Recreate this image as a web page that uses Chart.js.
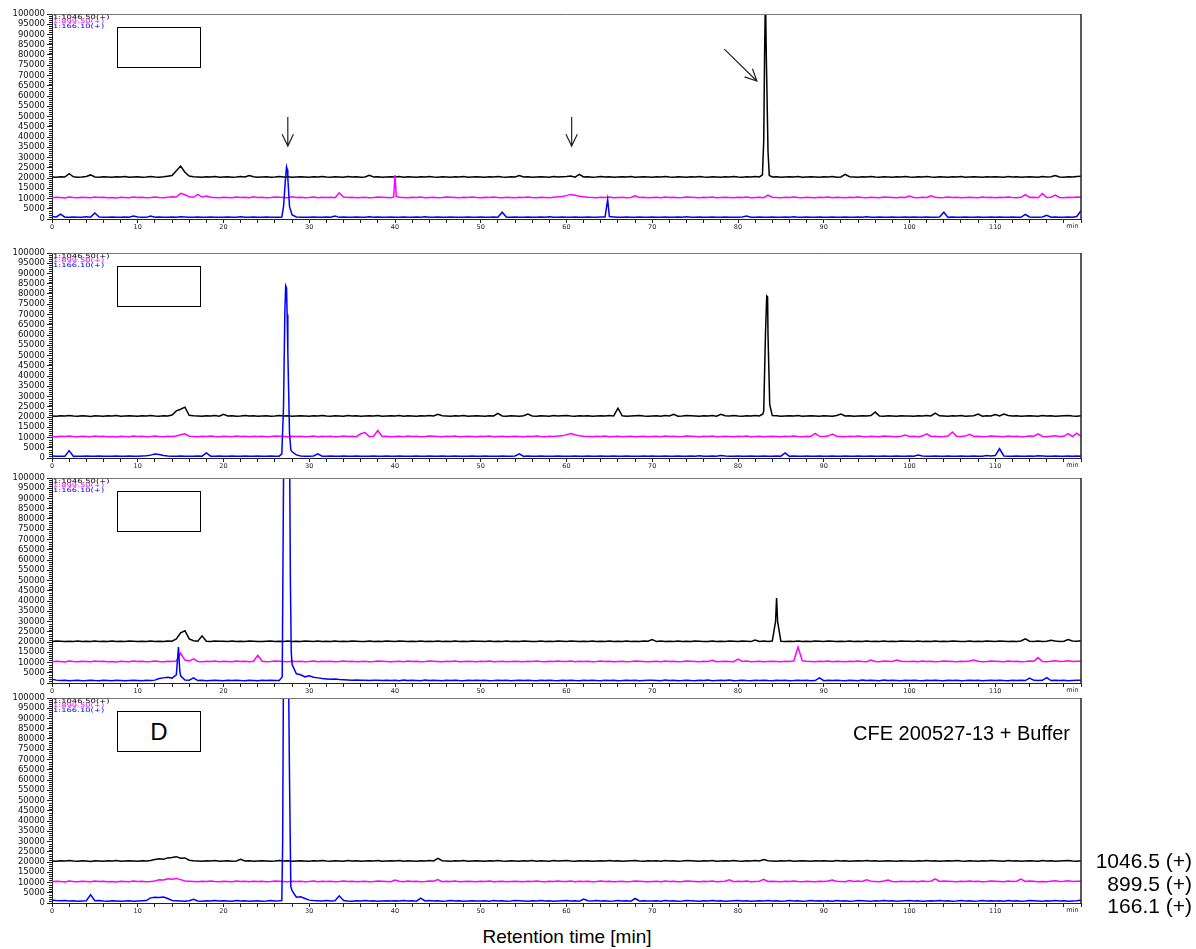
<!DOCTYPE html>
<html>
<head>
<meta charset="utf-8">
<script src="https://cdn.jsdelivr.net/npm/chart.js@4.4.1/dist/chart.umd.min.js"></script>
<style>
  body { margin: 0; background: #fff; width: 1196px; height: 949px; position: relative; overflow: hidden;
         font-family: "Liberation Sans", Arial, sans-serif; color: #000; }
  canvas { position: absolute; left: 0; }
  .box { position: absolute; left: 117px; width: 84px; height: 41px; border: 1px solid #000; box-sizing: border-box;
         font-size: 24px; line-height: 39px; text-align: center; background: #fff; }
  .txt { position: absolute; white-space: nowrap; }
</style>
</head>
<body>
<script>
// sampling of the grids below: one value every 0.5 min from 0 to 120 min,
// values in hundreds of counts
const STEP = 0.5;
const UNIT = 100;

const channelNames = ['1:1046.50(+)', '1:899.50(+)', '1:166.10(+)'];
const massLabels = ['1046.5 (+)', '899.5 (+)', '166.1 (+)'];
const colors = ['#000000', '#ff00ff', '#0000ff'];

// ---- panel A ----
const A_black = [
  205,204,206,205,221,206,204,205,207,215,205,204,206,205,204,206,205,207,204,205,
  206,204,205,207,205,204,206,209,212,235,258,228,210,206,205,204,206,205,207,204,
  205,206,204,205,207,205,212,206,204,205,206,204,205,207,205,206,204,205,206,205,
  204,206,205,207,205,204,206,205,204,207,205,206,204,205,213,205,206,204,205,206,
  205,207,204,206,205,204,206,205,207,205,204,206,205,204,206,205,207,204,205,206,
  205,204,206,205,207,205,204,206,205,212,205,206,204,205,206,205,204,207,205,206,
  207,210,204,218,205,206,204,205,207,205,206,204,205,206,205,207,204,205,206,205,
  204,206,205,207,205,204,206,205,204,206,205,207,205,204,206,205,204,206,205,207,
  205,204,206,205,207,205,380,330,205,206,204,205,206,205,207,204,205,206,205,204,
  206,205,207,204,205,218,206,205,204,206,205,207,205,204,206,205,204,206,205,207,
  205,204,206,205,207,205,204,206,205,204,206,205,207,204,205,206,205,204,206,205,
  206,205,204,207,205,206,204,205,206,205,204,207,205,206,212,205,204,206,205,207,208
];
const A_blackPeaks = [[82.85,215],[83.1,800],[83.2,1100],[83.3,800],[83.65,212]];
const A_magenta = [
  104,106,105,103,107,105,104,106,105,104,107,105,106,104,105,103,106,105,104,107,
  105,106,104,105,107,105,104,106,108,107,125,118,109,106,120,107,112,106,105,104,
  106,105,104,107,105,106,104,108,105,106,104,105,107,106,105,104,109,105,106,104,
  105,107,104,106,105,106,104,128,107,105,106,104,105,106,104,105,107,106,105,104,
  215,106,105,104,106,105,107,104,105,106,104,105,107,106,105,104,106,105,107,105,
  104,106,105,107,105,104,106,105,104,106,105,107,105,104,106,105,104,106,108,110,
  114,120,116,111,108,106,105,104,106,105,107,104,105,106,104,105,113,105,106,104,
  105,106,104,107,105,106,104,105,107,106,105,104,106,105,107,104,105,106,105,104,
  106,105,107,104,105,106,104,116,106,105,104,106,105,107,105,104,106,105,104,106,
  105,107,104,106,105,104,106,105,107,105,104,106,105,104,107,106,105,104,106,105,
  112,105,104,106,105,113,106,104,105,107,105,106,104,105,106,105,104,107,105,106,
  104,106,105,107,105,104,106,119,105,106,104,124,105,106,117,105,104,106,105,107,106
];
const A_magentaPeaks = [[39.85,108],[40.15,110]];
const A_blue = [
  12,10,24,9,8,10,9,8,11,9,29,10,8,9,10,8,9,10,9,15,
  10,9,8,14,9,10,9,8,10,9,11,10,9,8,10,9,8,10,9,8,
  9,10,8,9,11,9,8,10,9,8,10,9,8,9,60,200,20,10,9,8,
  9,10,8,9,10,9,14,8,10,9,8,10,9,8,11,9,10,8,9,10,
  9,8,10,9,8,10,9,11,8,9,10,9,8,10,9,8,9,10,9,8,
  10,9,8,10,9,33,9,8,10,9,8,10,9,8,10,9,11,8,9,10,
  9,8,10,9,8,10,9,8,10,10,12,10,8,9,10,9,8,10,9,8,
  10,9,8,10,9,8,10,9,11,8,9,10,9,8,10,9,8,10,9,8,
  9,10,14,9,8,10,9,8,10,9,8,10,9,11,8,9,10,9,8,10,
  9,8,10,9,8,10,9,8,10,9,11,8,9,10,9,8,10,9,8,10,
  9,10,8,9,10,9,8,10,33,8,10,9,8,10,9,8,10,9,8,10,
  9,10,8,9,10,9,8,22,10,9,8,10,18,9,10,8,9,10,9,12,40
];
const A_bluePeaks = [[26.8,10],[27.2,180],[27.35,255],[27.45,240],[27.7,60],[64.8,95]];

// ---- panel B ----
const B_black = [
  205,204,206,205,207,205,204,206,205,203,206,205,204,206,205,207,204,205,206,205,
  204,206,205,207,205,204,206,205,210,230,238,248,208,206,205,204,206,205,207,204,
  213,205,206,204,205,207,205,206,204,205,206,204,205,207,205,206,204,205,206,205,
  204,206,205,207,205,204,206,205,204,207,205,206,204,205,206,205,207,204,205,206,
  205,207,204,206,205,204,206,205,207,205,213,206,205,204,206,205,207,204,205,206,
  205,204,206,205,218,205,204,206,205,204,206,214,205,204,206,205,204,207,205,206,
  207,205,204,206,205,206,204,205,206,205,207,205,243,206,204,205,206,207,205,204,
  205,206,204,207,205,213,204,205,207,206,205,204,206,205,207,204,213,206,205,207,
  205,204,206,205,207,205,230,600,207,206,204,205,206,205,207,204,205,206,205,204,
  206,205,204,207,214,205,206,204,205,206,205,207,224,205,204,206,205,204,206,205,
  205,204,206,205,207,205,219,206,205,204,206,205,207,204,205,206,214,204,206,205,
  212,205,214,207,205,206,204,205,206,205,204,207,205,206,204,205,206,207,205,204,206
];
const B_blackPeaks = [[82.9,215],[83.2,600],[83.35,790],[83.45,785],[83.7,260]];
const B_magenta = [
  105,104,106,105,107,105,104,106,105,104,107,105,106,104,105,103,106,105,104,107,
  105,106,104,105,107,105,104,106,105,107,113,118,106,105,104,106,105,107,105,104,
  106,105,104,107,105,106,104,106,105,106,104,105,107,106,105,104,106,105,106,104,
  105,107,104,106,105,106,104,105,107,105,106,104,118,124,105,106,134,105,106,104,
  105,106,104,107,105,106,104,105,107,106,105,104,106,105,107,104,105,106,105,104,
  106,105,107,104,105,106,104,105,106,105,104,106,105,107,105,104,106,105,107,108,
  114,119,113,108,106,105,104,106,105,107,104,105,106,104,105,106,104,105,106,104,
  105,106,104,107,105,106,104,105,107,106,105,104,106,105,107,104,105,106,105,104,
  106,105,107,104,105,106,104,105,106,105,104,106,105,107,105,104,106,105,120,106,
  105,107,117,106,105,104,106,105,107,105,104,106,105,104,107,106,105,104,106,112,
  105,106,104,107,118,105,106,104,105,107,127,106,105,107,116,105,106,104,105,107,
  106,105,104,107,105,106,104,105,107,106,118,105,104,106,108,105,106,119,105,121,106
];
const B_magentaPeaks = [];
const B_blue = [
  10,9,8,9,36,8,9,8,10,9,8,10,9,8,9,10,8,9,10,9,
  9,10,11,14,19,17,12,10,9,8,10,9,8,9,10,9,25,9,8,10,
  9,8,10,9,8,10,9,8,10,9,8,10,9,9,250,520,30,15,10,9,
  8,10,20,9,8,10,9,8,10,9,8,10,9,8,9,10,8,9,10,9,
  8,10,9,8,9,10,9,8,10,9,8,10,9,8,10,9,8,9,10,9,
  8,10,9,8,9,10,9,8,10,20,8,10,9,8,10,9,8,9,10,9,
  8,9,10,9,8,10,9,8,10,9,8,10,9,8,10,9,8,9,10,9,
  10,9,8,10,9,8,10,9,8,10,9,11,8,9,10,9,12,10,9,8,
  10,9,8,10,9,8,10,9,8,10,9,25,8,10,9,8,10,9,8,10,
  9,8,10,9,8,10,9,8,10,9,8,10,9,8,10,9,8,10,9,8,
  10,9,14,10,9,8,10,9,8,10,9,8,10,9,8,10,9,8,12,10,
  12,45,10,9,8,10,9,8,10,9,11,10,9,8,10,9,8,10,9,10,9
];
const B_bluePeaks = [[26.8,20],[27.15,700],[27.25,840],[27.35,830],[27.42,700],[27.7,120],[27.85,40]];

// ---- panel C ----
const C_black = [
  203,205,204,202,204,203,205,203,204,202,205,203,204,203,205,202,204,203,205,204,
  203,204,202,205,203,204,203,205,204,215,245,255,215,206,204,230,204,203,205,204,
  204,203,205,202,204,203,205,204,203,202,204,205,203,204,202,205,203,204,203,205,
  204,202,205,203,204,203,205,202,204,203,205,204,203,202,205,203,204,203,205,204,
  203,205,204,202,204,203,205,203,204,202,205,203,204,203,205,202,204,203,205,204,
  204,202,205,203,204,203,205,202,204,203,205,204,203,202,205,203,204,203,205,204,
  203,205,204,202,204,203,205,203,204,202,205,203,204,203,205,202,204,203,205,204,
  212,202,205,203,204,203,205,202,204,203,205,204,203,202,205,203,204,203,205,204,
  203,205,204,202,210,203,205,203,205,415,204,203,204,203,205,202,204,203,205,204,
  203,205,204,202,204,203,205,203,204,202,205,203,204,203,205,202,204,203,205,204,
  204,202,205,203,204,203,205,202,204,203,205,204,203,202,205,203,204,203,205,204,
  203,205,204,202,204,203,205,215,204,202,205,203,204,209,205,202,204,212,205,204,206
];
const C_blackPeaks = [[84.38,300],[84.62,300]];
const C_magenta = [
  104,106,105,103,107,105,104,106,105,104,107,105,106,104,105,103,106,105,104,107,
  105,106,104,105,107,105,104,106,105,107,145,112,107,118,105,104,106,105,107,104,
  106,105,104,107,105,106,104,106,135,106,104,105,107,106,105,104,106,105,106,104,
  105,107,104,106,105,106,104,105,107,105,106,104,105,106,104,105,107,106,105,104,
  105,106,104,107,105,106,104,105,107,106,105,104,106,105,107,104,105,106,105,104,
  106,105,107,104,105,106,104,105,106,105,104,106,105,107,105,104,106,105,107,105,
  105,107,104,106,105,106,104,105,107,105,106,104,105,106,104,105,107,106,105,104,
  105,106,104,107,105,106,104,105,107,106,105,104,106,105,111,104,105,106,105,104,
  117,105,107,104,105,106,104,105,106,105,104,106,105,107,175,108,106,105,104,106,
  105,107,104,106,105,104,106,105,107,105,104,112,105,104,107,106,105,112,106,105,
  105,106,104,107,105,106,104,105,107,106,105,104,106,105,107,112,106,104,105,107,
  106,105,104,107,105,106,104,105,107,106,124,105,104,106,108,105,106,109,105,106,106
];
const C_magentaPeaks = [];
const C_blue = [
  18,14,12,13,11,12,13,11,12,14,12,11,13,12,11,13,12,11,12,13,
  12,11,13,12,14,22,25,28,24,40,35,14,13,25,12,13,11,12,13,12,
  11,13,12,14,12,11,13,12,11,13,12,14,12,12,1000,1500,90,45,40,30,
  35,28,25,22,20,18,19,17,16,15,14,15,13,14,12,13,14,12,13,12,
  13,11,14,12,13,12,11,14,12,13,12,11,13,12,14,12,11,13,12,14,
  12,13,11,12,14,12,13,11,12,13,12,14,12,11,13,12,14,12,11,13,
  12,14,12,11,13,12,14,12,11,13,12,13,11,12,14,12,13,11,12,13,
  13,12,11,14,12,13,11,12,14,12,11,13,12,14,11,12,13,12,14,11,
  12,14,12,11,13,12,14,12,11,13,12,13,11,12,14,12,13,11,12,25,
  11,13,12,14,12,11,13,12,11,14,12,13,12,11,14,12,13,12,11,13,
  12,14,12,11,13,12,14,12,11,13,12,13,11,12,14,12,13,11,12,13,
  12,14,12,11,13,12,14,12,24,13,12,13,26,12,14,12,13,11,12,13,14
];
const C_bluePeaks = [[14.75,175],[14.9,60],[26.85,30],[27.05,1200],[27.7,1200],[27.8,500],[27.9,150]];

// ---- panel D ----
const D_black = [
  205,204,206,205,207,205,204,206,205,203,206,205,204,206,205,207,204,205,206,205,
  204,206,205,207,212,216,214,220,222,226,218,220,209,206,205,204,206,205,207,204,
  205,206,204,205,213,205,206,204,205,206,205,204,205,207,205,206,204,205,206,205,
  204,206,205,207,205,204,206,205,204,207,205,206,204,205,206,205,207,204,205,206,
  205,207,204,206,205,204,206,205,207,205,218,206,205,204,206,205,207,204,205,206,
  205,204,206,205,207,205,204,206,205,204,206,205,207,204,206,205,204,207,205,206,
  207,205,204,206,205,206,204,205,206,205,207,205,206,204,205,206,207,205,204,206,
  205,206,204,207,205,206,204,205,207,206,205,204,206,205,207,204,205,206,205,207,
  205,204,206,205,207,205,212,206,205,204,206,205,207,204,205,206,205,204,206,205,
  206,205,204,207,205,206,204,205,206,205,207,205,206,204,205,206,205,204,206,205,
  205,204,206,205,207,205,206,204,205,206,205,207,205,204,206,205,204,206,205,207,
  206,205,204,207,205,206,204,205,206,205,204,207,205,206,204,205,206,207,205,204,206
];
const D_blackPeaks = [];
const D_magenta = [
  104,106,105,103,107,105,104,106,105,104,107,105,106,104,105,103,106,105,104,107,
  105,106,104,105,107,113,112,118,116,120,114,107,106,105,104,106,105,107,105,104,
  106,105,104,107,105,106,104,106,105,106,104,105,107,106,105,104,106,105,106,104,
  105,107,104,106,105,106,104,105,107,105,106,104,105,106,104,105,107,106,105,104,
  112,106,104,107,105,106,104,105,107,106,114,104,106,105,107,104,105,106,105,104,
  106,105,107,104,105,106,104,105,106,105,104,106,105,107,105,104,106,105,107,105,
  105,107,104,106,105,106,104,105,107,105,106,104,105,106,104,105,107,106,105,104,
  105,106,104,107,105,106,104,105,107,106,105,104,106,105,107,104,105,106,113,104,
  106,105,107,104,105,106,116,105,106,105,104,106,105,107,105,104,106,105,104,106,
  105,107,112,106,105,104,110,105,107,105,113,106,105,104,107,112,105,104,106,105,
  105,106,104,107,105,106,118,105,107,106,105,104,106,105,107,105,106,104,105,107,
  106,105,104,107,105,106,117,105,107,106,104,105,104,106,108,105,106,109,105,106,106
];
const D_magentaPeaks = [];
const D_blue = [
  14,12,11,12,10,11,9,10,11,40,11,12,10,9,11,10,9,10,11,9,
  10,11,12,25,28,27,29,22,12,11,10,9,11,18,10,9,11,10,12,10,
  11,10,9,12,10,11,9,10,11,9,10,12,10,11,1200,1500,60,28,30,22,
  14,12,11,10,12,10,11,35,12,10,9,11,10,12,10,11,9,10,11,10,
  11,10,12,10,11,9,24,10,12,10,11,9,10,12,10,11,9,10,11,10,
  10,11,9,12,10,11,9,10,12,11,10,9,11,10,12,10,11,9,10,11,
  12,10,11,9,19,11,10,12,10,11,9,10,12,10,11,9,22,10,11,10,
  10,11,9,12,10,11,9,10,12,11,10,9,11,10,12,10,11,9,10,11,
  12,10,11,9,10,11,10,12,10,11,9,10,12,10,11,9,10,12,10,11,
  10,11,9,12,10,11,9,10,12,11,10,9,11,10,12,10,11,9,10,11,
  12,10,11,9,10,11,10,12,10,11,9,10,12,10,11,9,10,12,10,11,
  10,11,9,12,10,11,9,10,12,11,10,9,11,10,12,10,11,9,10,11,13
];
const D_bluePeaks = [[26.8,12],[26.9,300],[27.7,600],[27.85,80]];

// arrows in panel A: [x0, y0, x1, y1] in min / counts
const arrowsA = [[27.5, 49800, 27.5, 35600], [60.6, 49800, 60.6, 35600], [78.4, 82900, 82.2, 67300]];

const panels = [
  { series: [[A_black, A_blackPeaks], [A_magenta, A_magentaPeaks], [A_blue, A_bluePeaks]], arrows: arrowsA },
  { series: [[B_black, B_blackPeaks], [B_magenta, B_magentaPeaks], [B_blue, B_bluePeaks]], arrows: [] },
  { series: [[C_black, C_blackPeaks], [C_magenta, C_magentaPeaks], [C_blue, C_bluePeaks]], arrows: [] },
  { series: [[D_black, D_blackPeaks], [D_magenta, D_magentaPeaks], [D_blue, D_bluePeaks]], arrows: [], letter: 'D' }
];

// layout
const plotTops = [14, 253, 478, 698];
const PLOT_H = 205;
const PAD_TOP = 8;
const X_AXIS_H = 14;

function toPoints(grid, peaks) {
  const pts = grid.map((v, i) => ({ x: i * STEP, y: v * UNIT }));
  peaks.forEach(([t, v]) => pts.push({ x: t, y: v * UNIT }));
  return pts.sort((a, b) => a.x - b.x);
}

const decor = {
  id: 'decor',
  afterDraw(chart, args, opts) {
    const { ctx, chartArea: a, scales: { x, y } } = chart;
    ctx.save();
    // top and right frame
    ctx.strokeStyle = '#777';
    ctx.lineWidth = 1;
    ctx.beginPath();
    ctx.moveTo(a.left, a.top + 0.5);
    ctx.lineTo(a.right, a.top + 0.5);
    ctx.stroke();
    ctx.strokeStyle = '#222';
    ctx.lineWidth = 1.5;
    ctx.beginPath();
    ctx.moveTo(a.right, a.top);
    ctx.lineTo(a.right, a.bottom);
    ctx.stroke();
    // minor y ticks
    ctx.lineWidth = 1;
    for (let v = 1000; v < 100000; v += 1000) {
      if (v % 5000 === 0) continue;
      const py = Math.round(y.getPixelForValue(v)) + 0.5;
      ctx.beginPath();
      ctx.moveTo(a.left - 3, py);
      ctx.lineTo(a.left, py);
      ctx.stroke();
    }
    // unit at the end of the time axis
    ctx.fillStyle = '#222';
    ctx.font = '6.5px "DejaVu Sans"';
    ctx.textAlign = 'center';
    ctx.textBaseline = 'top';
    ctx.fillText('min', x.getPixelForValue(119), a.bottom + 4);
    // channel names
    ctx.textAlign = 'left';
    ctx.font = '6px "DejaVu Sans"';
    ctx.textBaseline = 'middle';
    channelNames.forEach((n, i) => {
      ctx.save();
      ctx.translate(a.left + 1, a.top + 3 + i * 4.5);
      ctx.scale(1.4, 1);
      ctx.fillStyle = colors[i];
      ctx.fillText(n, 0, 0);
      ctx.restore();
    });
    // arrows
    ctx.strokeStyle = '#222';
    ctx.lineWidth = 1.2;
    (opts.arrows || []).forEach(([x0, y0, x1, y1]) => {
      const px0 = x.getPixelForValue(x0), py0 = y.getPixelForValue(y0);
      const px1 = x.getPixelForValue(x1), py1 = y.getPixelForValue(y1);
      const ang = Math.atan2(py1 - py0, px1 - px0);
      const L = 13, spread = 0.45;
      ctx.beginPath();
      ctx.moveTo(px0, py0);
      ctx.lineTo(px1, py1);
      ctx.moveTo(px1 - L * Math.cos(ang - spread), py1 - L * Math.sin(ang - spread));
      ctx.lineTo(px1, py1);
      ctx.lineTo(px1 - L * Math.cos(ang + spread), py1 - L * Math.sin(ang + spread));
      ctx.stroke();
    });
    ctx.restore();
  }
};

Chart.defaults.font.family = '"DejaVu Sans", sans-serif';

panels.forEach((p, k) => {
  const cv = document.createElement('canvas');
  cv.width = 1100;
  cv.height = PAD_TOP + PLOT_H + X_AXIS_H;
  cv.style.top = (plotTops[k] - PAD_TOP) + 'px';
  document.body.appendChild(cv);

  const datasets = p.series.map(([grid, peaks], i) => ({
    label: massLabels[i],
    data: toPoints(grid, peaks),
    borderColor: colors[i],
    borderWidth: 1.5,
    pointRadius: 0,
    tension: 0,
    order: 2 - i
  }));

  new Chart(cv, {
    type: 'line',
    data: { datasets },
    options: {
      responsive: false,
      animation: false,
      layout: { padding: { top: PAD_TOP, right: 19, left: 0, bottom: 0 } },
      plugins: { legend: { display: false }, tooltip: { enabled: false }, decor: { arrows: p.arrows } },
      scales: {
        x: {
          type: 'linear', min: 0, max: 120,
          ticks: {
            stepSize: 2, autoSkip: false, maxRotation: 0, padding: 0, color: '#222',
            font: { size: 6.5 },
            callback: v => (v % 10 === 0 && v < 120 ? String(v) : '')
          },
          grid: { drawOnChartArea: false, tickLength: 4, color: '#222' },
          border: { color: '#222' },
          afterFit: s => { s.height = X_AXIS_H; }
        },
        y: {
          min: 0, max: 100000,
          ticks: { stepSize: 5000, autoSkip: false, padding: 2, color: '#111', font: { size: 8.5 },
                   callback: v => String(v) },
          grid: { drawOnChartArea: false, tickLength: 5, color: '#222' },
          border: { color: '#222' },
          afterFit: s => { s.width = 52; }
        }
      }
    },
    plugins: [decor]
  });

  const box = document.createElement('div');
  box.className = 'box';
  box.style.top = (plotTops[k] + 13) + 'px';
  if (p.letter) box.textContent = p.letter;
  document.body.appendChild(box);
});

function addText(text, style) {
  const d = document.createElement('div');
  d.className = 'txt';
  d.textContent = text;
  Object.assign(d.style, style);
  document.body.appendChild(d);
}

addText('CFE 200527-13 + Buffer', { right: '126px', top: '722px', fontSize: '20px', lineHeight: '22px' });
massLabels.forEach((t, i) => {
  addText(t, { right: '4px', top: (850 + i * 22.5) + 'px', fontSize: '21px', lineHeight: '22px' });
});
addText('Retention time [min]', { left: '0', width: '1134px', textAlign: 'center', top: '926px',
                                  fontSize: '19px', lineHeight: '22px' });
</script>
</body>
</html>
